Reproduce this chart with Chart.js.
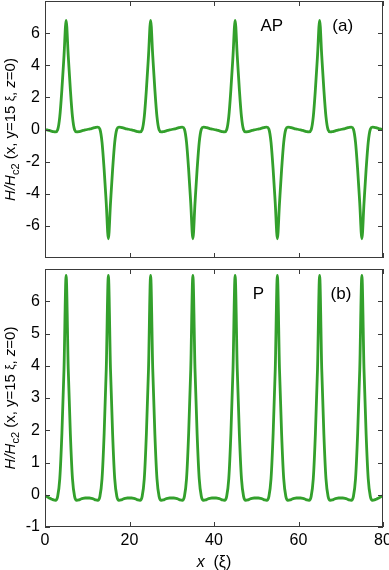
<!DOCTYPE html>
<html>
<head>
<meta charset="utf-8">
<script src="https://cdn.jsdelivr.net/npm/chart.js@4.4.0/dist/chart.umd.min.js"></script>
<style>
  html, body { margin: 0; padding: 0; background: #fff; }
  #wrap { position: relative; width: 389px; height: 570px; }
  #wrap canvas { position: absolute; left: 0; }
</style>
</head>
<body>
<div id="wrap">
  <canvas id="chartAP" width="389" height="262" style="top:0"></canvas>
  <canvas id="chartP" width="389" height="308" style="top:262px"></canvas>
</div>
<script>
// sample positions along x (in units of xi), every 0.5
const xPositions = Array.from({ length: 161 }, (_, i) => i * 0.5);

// (a) AP: field H/Hc2 along x (one line = 10 xi)
const apValues = [
  0.00, -0.03, -0.06, -0.10, -0.14, -0.15, -0.02, 0.8, 2.5, 4.6, 6.8, 4.6, 2.5, 0.8, -0.02, -0.15, -0.14, -0.10, -0.06, -0.03,
  0.00, 0.03, 0.06, 0.10, 0.14, 0.15, 0.02, -0.8, -2.5, -4.6, -6.8, -4.6, -2.5, -0.8, 0.02, 0.15, 0.14, 0.10, 0.06, 0.03,
  0.00, -0.03, -0.06, -0.10, -0.14, -0.15, -0.02, 0.8, 2.5, 4.6, 6.8, 4.6, 2.5, 0.8, -0.02, -0.15, -0.14, -0.10, -0.06, -0.03,
  0.00, 0.03, 0.06, 0.10, 0.14, 0.15, 0.02, -0.8, -2.5, -4.6, -6.8, -4.6, -2.5, -0.8, 0.02, 0.15, 0.14, 0.10, 0.06, 0.03,
  0.00, -0.03, -0.06, -0.10, -0.14, -0.15, -0.02, 0.8, 2.5, 4.6, 6.8, 4.6, 2.5, 0.8, -0.02, -0.15, -0.14, -0.10, -0.06, -0.03,
  0.00, 0.03, 0.06, 0.10, 0.14, 0.15, 0.02, -0.8, -2.5, -4.6, -6.8, -4.6, -2.5, -0.8, 0.02, 0.15, 0.14, 0.10, 0.06, 0.03,
  0.00, -0.03, -0.06, -0.10, -0.14, -0.15, -0.02, 0.8, 2.5, 4.6, 6.8, 4.6, 2.5, 0.8, -0.02, -0.15, -0.14, -0.10, -0.06, -0.03,
  0.00, 0.03, 0.06, 0.10, 0.14, 0.15, 0.02, -0.8, -2.5, -4.6, -6.8, -4.6, -2.5, -0.8, 0.02, 0.15, 0.14, 0.10, 0.06, 0.03,
  0.00
];

// (b) P
const pValues = [
  -0.03, -0.06, -0.10, -0.13, -0.16, -0.17, -0.05, 0.5, 1.9, 3.9, 6.8, 3.9, 1.9, 0.5, -0.05, -0.17, -0.16, -0.13, -0.11, -0.10,
  -0.10, -0.10, -0.11, -0.13, -0.16, -0.17, -0.05, 0.5, 1.9, 3.9, 6.8, 3.9, 1.9, 0.5, -0.05, -0.17, -0.16, -0.13, -0.11, -0.10,
  -0.10, -0.10, -0.11, -0.13, -0.16, -0.17, -0.05, 0.5, 1.9, 3.9, 6.8, 3.9, 1.9, 0.5, -0.05, -0.17, -0.16, -0.13, -0.11, -0.10,
  -0.10, -0.10, -0.11, -0.13, -0.16, -0.17, -0.05, 0.5, 1.9, 3.9, 6.8, 3.9, 1.9, 0.5, -0.05, -0.17, -0.16, -0.13, -0.11, -0.10,
  -0.10, -0.10, -0.11, -0.13, -0.16, -0.17, -0.05, 0.5, 1.9, 3.9, 6.8, 3.9, 1.9, 0.5, -0.05, -0.17, -0.16, -0.13, -0.11, -0.10,
  -0.10, -0.10, -0.11, -0.13, -0.16, -0.17, -0.05, 0.5, 1.9, 3.9, 6.8, 3.9, 1.9, 0.5, -0.05, -0.17, -0.16, -0.13, -0.11, -0.10,
  -0.10, -0.10, -0.11, -0.13, -0.16, -0.17, -0.05, 0.5, 1.9, 3.9, 6.8, 3.9, 1.9, 0.5, -0.05, -0.17, -0.16, -0.13, -0.11, -0.10,
  -0.10, -0.10, -0.11, -0.13, -0.16, -0.17, -0.05, 0.5, 1.9, 3.9, 6.8, 3.9, 1.9, 0.5, -0.05, -0.17, -0.16, -0.13, -0.10, -0.06,
  -0.03
];

const xTicks = [0, 20, 40, 60, 80];
const yTicksAP = [-6, -4, -2, 0, 2, 4, 6];
const yTicksP = [-1, 0, 1, 2, 3, 4, 5, 6];

const FONT = '"Liberation Sans", Arial, sans-serif';
const LINE_COLOR = '#33a02c';
const AXIS_COLOR = '#3a3a3a';

// box round the plot with inward tick marks on all four sides
const framePlugin = {
    id: 'frame',
    afterDraw(chart) {
        const { ctx, chartArea: a, scales } = chart;
        ctx.save();
        ctx.strokeStyle = AXIS_COLOR;
        ctx.lineWidth = 1;
        ctx.strokeRect(a.left + 0.5, a.top + 0.5, a.right - a.left - 1, a.bottom - a.top - 1);
        ctx.beginPath();
        scales.x.ticks.forEach(t => {
            const px = Math.round(scales.x.getPixelForValue(t.value)) + 0.5;
            ctx.moveTo(px, a.bottom); ctx.lineTo(px, a.bottom - 5);
            ctx.moveTo(px, a.top); ctx.lineTo(px, a.top + 5);
        });
        scales.y.ticks.forEach(t => {
            const py = Math.round(scales.y.getPixelForValue(t.value)) + 0.5;
            ctx.moveTo(a.left, py); ctx.lineTo(a.left + 5, py);
            ctx.moveTo(a.right, py); ctx.lineTo(a.right - 5, py);
        });
        ctx.stroke();
        ctx.restore();
    }
};

// draws a run of text pieces with their own fonts; rotated if needed
function drawPieces(ctx, pieces, cx, cy, rotate) {
    ctx.save();
    ctx.translate(cx, cy);
    if (rotate) ctx.rotate(-Math.PI / 2);
    ctx.textBaseline = 'middle';
    ctx.textAlign = 'left';
    let total = 0;
    pieces.forEach(p => { ctx.font = p.font; total += ctx.measureText(p.text).width; });
    let x = -total / 2;
    pieces.forEach(p => {
        ctx.font = p.font;
        ctx.fillText(p.text, x, p.dy || 0);
        x += ctx.measureText(p.text).width;
    });
    ctx.restore();
}

const yTitlePieces = [
    { text: 'H/H', font: 'italic 15px ' + FONT },
    { text: 'c2', font: '11px ' + FONT, dy: 5 },
    { text: ' (x, y=15 ', font: '15px ' + FONT },
    { text: 'ξ', font: '12px ' + FONT },
    { text: ', ', font: '15px ' + FONT },
    { text: 'z', font: 'italic 15px ' + FONT },
    { text: '=0)', font: '15px ' + FONT }
];

const textPlugin = {
    id: 'panelText',
    afterDraw(chart, args, opts) {
        const { ctx, chartArea: a, scales } = chart;
        ctx.save();
        ctx.fillStyle = '#000';
        ctx.font = '17px ' + FONT;
        ctx.textBaseline = 'middle';
        ctx.textAlign = 'left';
        (opts.labels || []).forEach(l => {
            ctx.fillText(l.text, scales.x.getPixelForValue(l.x), scales.y.getPixelForValue(l.y));
        });
        ctx.restore();
        drawPieces(ctx, yTitlePieces, 11, (a.top + a.bottom) / 2, true);
        if (opts.xTitle) {
            drawPieces(ctx, [
                { text: 'x', font: 'italic 16px ' + FONT },
                { text: '  (ξ)', font: '16px ' + FONT }
            ], (a.left + a.right) / 2, chart.height - 7, false);
        }
    }
};

function makePanel(canvasId, values, yMin, yMax, yTicks, opts) {
    const points = xPositions.map((x, i) => ({ x: x, y: values[i] }));
    return new Chart(document.getElementById(canvasId), {
        type: 'line',
        data: {
            datasets: [{
                data: points,
                borderColor: LINE_COLOR,
                borderWidth: 2.8,
                pointRadius: 0,
                cubicInterpolationMode: 'monotone',
                fill: false
            }]
        },
        options: {
            responsive: false,
            animation: false,
            layout: { padding: { top: opts.padTop, right: 6, left: 0, bottom: 0 } },
            plugins: {
                legend: { display: false },
                tooltip: { enabled: false },
                panelText: { labels: opts.labels, xTitle: opts.xTitle }
            },
            scales: {
                x: {
                    type: 'linear',
                    min: 0,
                    max: 80,
                    afterBuildTicks: s => { s.ticks = xTicks.map(v => ({ value: v })); },
                    afterFit: s => { s.height = opts.xHeight; s.paddingLeft = 0; s.paddingRight = 0; },
                    grid: { display: false, drawTicks: false },
                    border: { display: false },
                    ticks: {
                        display: opts.xLabels,
                        color: '#000',
                        padding: 4,
                        maxRotation: 0,
                        font: { family: FONT, size: 16 }
                    }
                },
                y: {
                    type: 'linear',
                    min: yMin,
                    max: yMax,
                    afterBuildTicks: s => { s.ticks = yTicks.map(v => ({ value: v })); },
                    afterFit: s => { s.width = 45; s.paddingTop = 0; s.paddingBottom = 0; },
                    grid: { display: false, drawTicks: false },
                    border: { display: false },
                    ticks: {
                        color: '#000',
                        padding: 5,
                        font: { family: FONT, size: 16 }
                    }
                }
            }
        },
        plugins: [framePlugin, textPlugin]
    });
}

makePanel('chartAP', apValues, -8, 8, yTicksAP, {
    padTop: 1, xHeight: 4, xLabels: false, xTitle: false,
    labels: [{ text: 'AP', x: 51, y: 6.45 }, { text: '(a)', x: 68, y: 6.45 }]
});
makePanel('chartP', pValues, -1, 7, yTicksP, {
    padTop: 7, xHeight: 43, xLabels: true, xTitle: true,
    labels: [{ text: 'P', x: 49.2, y: 6.2 }, { text: '(b)', x: 67.6, y: 6.2 }]
});
</script>
</body>
</html>
